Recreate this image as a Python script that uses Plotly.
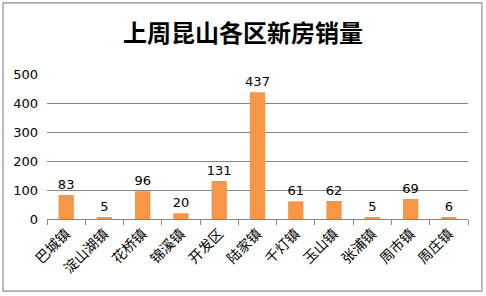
import plotly.graph_objects as go

categories = ["巴城镇", "淀山湖镇", "花桥镇", "锦溪镇", "开发区", "陆家镇", "千灯镇", "玉山镇", "张浦镇", "周市镇", "周庄镇"]
sales = [83, 5, 96, 20, 131, 437, 61, 62, 5, 69, 6]
y_ticks = [0, 100, 200, 300, 400, 500]
title_text = "上周昆山各区新房销量"

fig = go.Figure(go.Bar(
    x=categories, y=sales,
    marker=dict(color="#F79646", line=dict(width=0)),
    text=[str(v) for v in sales], textposition="outside", constraintext="none",
    textfont=dict(size=13, color="#000000", family="DejaVu Sans, Noto Sans CJK SC"),
    cliponaxis=False,
))

fig.update_layout(
    width=486, height=296,
    margin=dict(l=47, r=18, t=74, b=77),
    paper_bgcolor="white", plot_bgcolor="white",
    bargap=0.6,
    showlegend=False,
    title=dict(text="<b>" + title_text + "</b>", x=0.5, xanchor="center", y=0.885, yanchor="middle",
               font=dict(size=24, color="#000000", family="Noto Sans CJK SC")),
    font=dict(family="Noto Sans CJK SC, DejaVu Sans", color="#000000"),
    xaxis=dict(
        showline=True, linecolor="#868686", linewidth=1,
        ticks="outside", ticklen=5, tickcolor="#868686", tickson="boundaries",
        tickangle=-45, tickfont=dict(size=14, family="Noto Sans CJK SC"),
        showgrid=False,
    ),
    yaxis=dict(
        range=[0, 500], tickvals=y_ticks, showgrid=True, gridcolor="#868686", gridwidth=1,
        zeroline=False, showline=False, ticks="", tickfont=dict(size=13, family="DejaVu Sans"),
        ticklabelstandoff=8,
    ),
    shapes=[dict(type="rect", xref="paper", yref="paper", x0=-0.1045, x1=1.033, y0=-0.497, y1=1.49,
                 line=dict(color="#8c8c8c", width=1.2))],
)

fig.write_html("out.html")
